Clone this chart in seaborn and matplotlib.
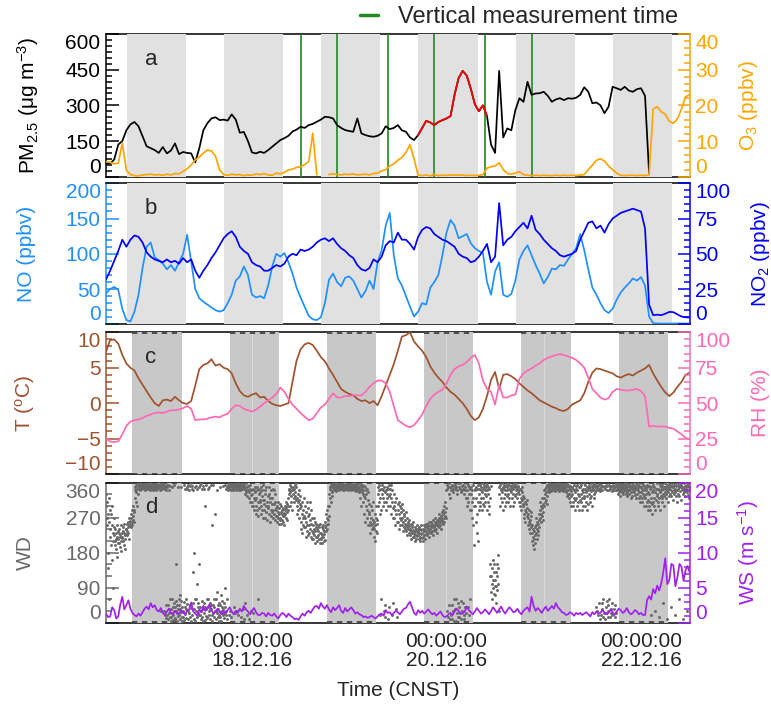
import numpy as np
import pandas as pd
import matplotlib
matplotlib.use("Agg")
import matplotlib.pyplot as plt
import matplotlib.ticker as mticker
from matplotlib.lines import Line2D
import seaborn as sns

nan = np.nan
START = "2016-12-16 12:00"

pm25 = [58, 55, 72, 135, 150, 195, 220, 230, 212, 170,
        128, 120, 112, 100, 125, 98, 110, 140, 95, 104,
        100, 98, 60, 120, 195, 225, 245, 250, 238, 240,
        236, 262, 240, 185, 188, 150, 102, 98, 105, 100,
        112, 126, 140, 154, 162, 172, 190, 198, 210, 205,
        217, 222, 231, 240, 252, 250, 245, 217, 205, 196,
        192, 189, 245, 182, 175, 170, 168, 172, 182, 212,
        200, 205, 217, 195, 189, 165, 154, 175, 205, 235,
        228, 217, 230, 238, 245, 255, 345, 415, 445, 425,
        370, 305, 275, 300, 255, 135, 100, 445, 165, 203,
        195, 280, 330, 315, 399, 344, 350, 351, 357, 340,
        315, 325, 330, 322, 330, 328, 332, 344, 376, 357,
        309, 312, 300, 267, 294, 378, 372, 365, 378, 362,
        357, 368, 372, 340, 15, nan, nan, nan, nan, nan,
        nan, nan, nan, nan, nan]

o3 = [4.2, 4.0, 3.6, 3.8, 9.4, 1.8, 0.6, 0.3, 0.2, 0.5,
      0.6, 0.7, 0.5, 0.6, 0.4, 0.7, 0.5, 0.9, 0.8, 1.5,
      2.2, 3.3, 4.7, 5.5, 6.6, 7.5, 7.2, 5.8, 1.9, 0.6,
      0.4, 0.7, 0.5, 0.6, 0.3, 0.5, 0.4, 0.8, 0.6, 0.9,
      0.5, 0.4, 1.0, 0.8, 1.2, 1.9, 2.1, 2.6, 2.8, 3.4,
      4.2, 12.2, 0.5, nan, nan, 0.6, 0.8, 0.6, 0.5, 0.7,
      0.6, 0.8, 0.5, 0.6, 0.7, 0.5, 0.9, 1.0, 1.6, 2.0,
      3.0, 3.6, 4.6, 5.4, 6.8, 9.0, 5.0, 0.4, 0.3, 0.5,
      0.2, 0.7, 0.3, 0.4, 0.4, 0.5, 0.4, 0.5, 0.4, 0.3,
      0.4, 0.3, 0.4, 0.6, 2.4, 2.8, 3.0, 3.9, 2.0, 0.9,
      0.7, 1.0, 1.4, 0.6, 0.4, 0.3, 0.4, 0.3, 0.4, 0.3,
      0.3, 0.4, 0.3, 0.4, 0.3, 0.4, 0.3, 0.5, 0.6, 2.0,
      3.2, 4.6, 5.0, 4.4, 3.0, 2.0, 1.0, 0.4, 0.3, 0.4,
      0.4, 0.3, 0.4, 0.3, 0.5, 19.0, 19.6, 18.2, 17.5, 15.5,
      15.0, 16.2, 19.0, 22.4, 23.0]

no = [44, 50, 53, 49, 22, 6, 4, 18, 42, 80,
      110, 116, 95, 91, 86, 78, 84, 76, 88, 100,
      127, 88, 50, 37, 32, 28, 24, 20, 18, 20,
      30, 42, 62, 68, 82, 70, 42, 38, 40, 37,
      55, 82, 100, 96, 101, 88, 72, 52, 38, 25,
      12, 7, 6, 10, 30, 63, 72, 60, 54, 66,
      68, 62, 50, 38, 47, 62, 50, 88, 105, 140,
      158, 98, 65, 55, 40, 25, 11, 18, 30, 28,
      52, 60, 70, 98, 130, 148, 140, 122, 125, 128,
      115, 108, 104, 101, 60, 42, 75, 88, 42, 39,
      43, 62, 92, 104, 112, 98, 84, 72, 58, 67,
      79, 78, 84, 83, 92, 100, 108, 128, 105, 78,
      52, 42, 30, 20, 16, 22, 35, 45, 52, 58,
      65, 62, 67, 55, 11, 1.5, 1.2, 1.0, 1.2, 1.0,
      1.1, 1.3, 1.0, 1.2, 1.0]

no2 = [32, 38, 45, 52, 60, 55, 60, 63, 62, 58,
       51, 48, 46, 45, 44, 46, 44, 45, 43, 47,
       44, 46, 38, 33, 38, 42, 47, 51, 56, 61,
       64, 66, 62, 55, 52, 50, 44, 42, 41, 38,
       38, 40, 42, 41, 43, 48, 50, 49, 53, 52,
       53, 55, 58, 60, 61, 59, 61, 57, 54, 52,
       49, 47, 42, 39, 38, 40, 46, 44, 48, 56,
       59, 58, 65, 60, 60, 57, 53, 62, 67, 69,
       68, 64, 62, 60, 59, 57, 55, 50, 48, 47,
       44, 45, 48, 52, 57, 44, 48, 86, 56, 60,
       62, 66, 69, 72, 68, 77, 67, 64, 60, 57,
       54, 52, 49, 48, 49, 50, 52, 60, 66, 72,
       73, 68, 70, 65, 71, 75, 77, 79, 80, 81,
       82, 81, 80, 68, 14, 6.5, 6.8, 6.5, 7.5, 8.8,
       8.6, 7.0, 5.5, 5.0, 4.8]

temp = [7.3, 8.9, 9.0, 8.4, 6.8, 5.6, 5.0, 4.6, 3.5, 2.6,
        1.7, 0.8, 0.0, -0.4, 0.4, 0.5, 0.3, 0.9, 0.4, 0.0,
        -0.1, 0.3, 2.5, 4.8, 5.4, 5.6, 6.2, 5.3, 5.5, 5.0,
        4.8, 4.2, 2.8, 1.7, 1.1, 0.9, 1.2, 1.4, 0.8, 0.9,
        0.3, -0.1, -0.3, -0.4, -0.2, 0.0, 3.0, 6.0, 7.6, 8.3,
        8.5, 8.2, 7.4, 6.5, 5.9, 4.9, 4.0, 3.0, 2.0, 1.6,
        1.3, 1.1, 0.6, 0.3, 0.4, 0.0, 0.3, -0.3, 1.0, 2.5,
        4.0, 5.5, 7.4, 9.4, 9.6, 10.0, 8.7, 8.0, 7.4, 6.5,
        5.2, 4.3, 3.6, 3.0, 2.2, 1.6, 1.2, 0.6, 0.0, -0.8,
        -1.8, -2.4, -2.0, -0.8, 1.0, 3.3, 4.4, 2.0, 4.0, 4.1,
        3.8, 3.4, 2.8, 2.3, 1.8, 1.4, 0.9, 0.4, 0.1, -0.2,
        -0.5, -0.7, -1.0, -1.1, -0.8, -0.2, 0.1, 0.4, 1.4, 3.0,
        4.3, 4.9, 4.8, 4.6, 4.4, 4.2, 3.8, 3.6, 3.9, 4.1,
        3.9, 4.3, 4.6, 4.9, 5.4, 4.2, 3.2, 2.3, 1.5, 1.0,
        1.5, 2.3, 3.0, 4.0, 4.3]

rh = [25, 23, 22.5, 23, 28, 34, 37, 38, 38.5, 39.5,
      41, 42, 43, 43.5, 43, 44, 45, 45, 45.5, 46.5,
      48, 46, 38, 38.5, 38.5, 39, 40, 40.5, 40, 41.5,
      42.5, 46, 48.5, 48, 46, 45, 44, 45.5, 47.5, 50,
      52, 54, 56.5, 61, 58, 53, 49, 46, 43, 40.5,
      38, 39, 43, 47, 49, 53, 57, 54, 54, 55,
      55, 55.5, 55.5, 55.5, 58, 61.5, 64, 66, 66, 64,
      58, 48, 38, 36, 34, 33, 34.5, 38, 42, 48,
      53, 56, 58, 59.5, 64, 70, 74, 76, 77, 79,
      82, 84, 78, 66, 60, 58, 49, 63, 54, 54,
      55.5, 56, 67, 71, 73, 74.5, 76.5, 78, 80.5, 82,
      83, 84, 84.5, 84, 83, 82, 80.5, 78, 75, 68,
      60, 57, 54, 52.5, 53.5, 58, 60, 59.5, 59, 59,
      59.5, 60, 58.5, 55, 33.5, 34, 33.5, 33.5, 33.5, 32.5,
      32, 30, 28, 25.5, 24.5]

# wind speed, every 30 min
ws = [1.3, 0.8, 0.9, 2.2, 1.8, 0.6, 0.9, 2.6, 3.7, 1.9, 2.5, 3.2, 2.0, 1.4, 1.1, 0.9,
      1.3, 1.0, 1.5, 2.0, 2.3, 1.9, 2.8, 2.2, 2.5, 1.8, 1.6, 2.1, 1.4, 1.1, 1.6, 2.0,
      1.4, 1.2, 1.7, 1.3, 1.3, 1.8, 1.5, 1.2, 1.7, 1.9, 2.9, 1.6, 1.3, 1.0, 1.9, 1.5,
      2.4, 1.7, 2.1, 2.6, 1.8, 1.3, 1.6, 2.0, 1.5, 1.2, 1.7, 1.3, 1.8, 2.2, 1.6, 1.2,
      1.7, 1.4, 2.0, 1.6, 2.4, 1.9, 1.6, 1.2, 1.7, 2.1, 1.5, 1.1, 1.1, 1.4, 1.3, 0.9,
      1.4, 1.1, 1.0, 1.3, 0.9, 0.6, 1.1, 1.4, 1.2, 0.8, 1.3, 1.0, 0.8, 0.5, 0.6, 0.4,
      0.9, 1.3, 1.0, 1.5, 1.7, 1.4, 1.9, 2.3, 2.4, 2.0, 2.8, 2.3, 2.0, 2.5, 1.9, 1.5,
      2.2, 1.8, 2.1, 2.5, 1.7, 1.4, 2.1, 1.6, 1.9, 2.2, 1.8, 1.3, 1.5, 1.2, 1.1, 0.8,
      0.9, 0.7, 0.8, 1.0, 0.8, 0.6, 0.9, 1.2, 1.3, 1.0, 1.8, 1.4, 1.5, 1.1, 1.4, 1.7,
      1.5, 1.2, 1.6, 2.0, 2.1, 2.6, 3.0, 2.2, 1.4, 1.1, 1.8, 1.4, 1.7, 1.3, 1.6, 1.9,
      1.5, 1.2, 1.4, 1.0, 1.3, 1.6, 1.1, 0.8, 0.9, 1.2, 1.4, 1.1, 1.6, 2.0, 1.7, 1.3,
      1.3, 1.6, 2.3, 1.8, 1.5, 1.2, 1.6, 2.1, 1.7, 1.3, 1.5, 1.9, 1.6, 1.2, 1.7, 2.2,
      1.8, 1.4, 1.9, 2.3, 1.7, 1.3, 1.8, 2.2, 1.9, 1.5, 1.6, 2.0, 1.5, 1.2, 1.7, 2.0,
      2.2, 1.6, 3.7, 2.4, 1.7, 2.1, 1.8, 1.4, 1.9, 2.3, 1.7, 2.0, 2.4, 2.0, 2.8, 2.2,
      1.9, 1.5, 1.4, 1.1, 1.2, 1.5, 1.3, 1.0, 1.4, 1.2, 1.4, 1.1, 1.3, 1.5, 1.2, 0.9,
      1.5, 1.2, 1.6, 1.3, 1.4, 1.8, 1.5, 1.2, 1.4, 1.9, 1.5, 1.1, 1.6, 2.0, 1.8, 1.4,
      1.6, 2.1, 1.5, 1.2, 1.4, 1.8, 1.6, 1.2, 1.4, 1.1, 1.1, 3.2, 3.8, 3.3, 4.8, 4.2,
      5.3, 4.6, 5.6, 7.2, 9.2, 5.5, 6.1, 8.4, 8.2, 5.2, 6.5, 8.4, 8.0, 6.0, 7.5, 8.1,
      7.2]

# wind direction: twelve readings per hour (5-min), one row per hour from START
wd = [
    [330, 300, 270, 250, 310, 280, 180, 140, 320, 260, 60, 290],
    [240, 220, 280, 200, 250, 300, 160, 230, 90, 210, 270, 245],
    [225, 210, 240, 200, 230, 215, 190, 250, 170, 220, 235, 205],
    [215, 230, 205, 240, 220, 195, 225, 250, 210, 185, 230, 218],
    [220, 235, 210, 245, 200, 230, 255, 215, 225, 190, 240, 228],
    [240, 225, 255, 235, 260, 245, 230, 270, 250, 215, 262, 248],
    [255, 270, 245, 280, 260, 290, 250, 275, 300, 265, 285, 258],
    [290, 320, 340, 350, 310, 355, 335, 345, 300, 352, 330, 358],
    [350, 355, 345, 358, 352, 340, 348, 356, 344, 351, 347, 354],
    [355, 348, 352, 345, 358, 350, 342, 356, 349, 353, 346, 357],
    [350, 345, 355, 358, 347, 352, 343, 356, 349, 341, 354, 348],
    [352, 348, 356, 343, 350, 357, 345, 354, 340, 351, 347, 355],
    [345, 352, 358, 350, 340, 355, 348, 343, 356, 351, 346, 353],
    [350, 355, 348, 342, 357, 352, 345, 354, 30, 349, 356, 344],
    [353, 346, 350, 30, 358, 345, 20, 352, 45, 341, 12, 355],
    [20, 350, 355, 45, 10, 340, 35, 25, 352, 60, 15, 5],
    [15, 35, 60, 348, 25, 8, 40, 20, 50, 30, 355, 10],
    [40, 12, 150, 30, 55, 5, 25, 45, 18, 350, 35, 62],
    [20, 45, 10, 70, 35, 350, 28, 55, 15, 40, 5, 30],
    [28, 15, 52, 8, 355, 40, 22, 345, 35, 60, 12, 48],
    [350, 345, 30, 355, 10, 340, 25, 45, 15, 352, 38, 5],
    [358, 345, 352, 20, 340, 50, 130, 180, 35, 10, 348, 60],
    [5, 30, 352, 60, 15, 345, 100, 40, 25, 50, 150, 20],
    [350, 355, 40, 20, 360, 10, 30, 345, 55, 15, 35, 5],
    [352, 345, 25, 50, 8, 300, 40, 18, 355, 35, 60, 12],
    [15, 40, 345, 60, 30, 350, 20, 50, 10, 35, 355, 45],
    [35, 5, 250, 20, 355, 45, 25, 60, 15, 40, 30, 280],
    [10, 60, 30, 340, 25, 80, 45, 15, 35, 50, 20, 5],
    [45, 15, 350, 70, 30, 5, 25, 55, 40, 20, 352, 35],
    [25, 50, 12, 355, 40, 90, 30, 345, 20, 350, 60, 10],
    [340, 355, 350, 20, 345, 358, 352, 30, 348, 15, 356, 342],
    [352, 345, 358, 340, 350, 355, 348, 40, 343, 356, 25, 351],
    [348, 355, 342, 358, 30, 350, 345, 353, 20, 357, 340, 349],
    [350, 340, 355, 15, 345, 352, 358, 343, 35, 348, 356, 10],
    [355, 345, 330, 50, 350, 340, 358, 335, 20, 348, 325, 352],
    [340, 352, 320, 335, 10, 345, 310, 355, 328, 30, 342, 300],
    [330, 310, 345, 25, 300, 340, 320, 290, 350, 315, 335, 280],
    [320, 300, 340, 290, 350, 60, 310, 275, 330, 295, 345, 315],
    [335, 310, 280, 350, 300, 325, 290, 340, 270, 315, 355, 305],
    [315, 290, 340, 270, 330, 300, 285, 350, 310, 265, 325, 295],
    [300, 330, 280, 350, 310, 260, 320, 290, 340, 275, 305, 285],
    [320, 290, 345, 270, 305, 340, 280, 310, 265, 330, 295, 275],
    [290, 275, 300, 260, 285, 310, 270, 295, 255, 280, 305, 265],
    [270, 285, 255, 300, 265, 280, 290, 260, 275, 295, 250, 282],
    [275, 290, 300, 280, 310, 295, 270, 285, 305, 265, 290, 300],
    [320, 340, 330, 345, 300, 335, 355, 310, 350, 325, 290, 342],
    [340, 330, 350, 320, 345, 310, 355, 335, 325, 348, 315, 358],
    [300, 320, 280, 330, 290, 310, 340, 270, 315, 295, 325, 305],
    [260, 300, 240, 280, 230, 310, 270, 250, 290, 320, 245, 275],
    [270, 245, 300, 220, 260, 285, 235, 310, 250, 275, 225, 295],
    [250, 280, 230, 310, 265, 240, 220, 290, 255, 235, 270, 215],
    [230, 250, 215, 270, 240, 225, 205, 260, 235, 245, 220, 255],
    [220, 240, 210, 235, 250, 225, 215, 245, 205, 230, 255, 218],
    [230, 215, 245, 225, 205, 240, 220, 250, 210, 235, 228, 212],
    [245, 260, 235, 280, 250, 270, 240, 290, 255, 265, 300, 275],
    [300, 330, 345, 320, 350, 355, 310, 340, 325, 358, 335, 348],
    [350, 355, 345, 358, 340, 352, 347, 356, 343, 351, 338, 354],
    [355, 348, 352, 345, 358, 350, 341, 356, 347, 353, 344, 349],
    [350, 345, 355, 358, 347, 352, 342, 356, 349, 353, 340, 346],
    [352, 348, 356, 343, 350, 357, 345, 354, 340, 351, 347, 355],
    [345, 352, 358, 350, 340, 355, 348, 343, 356, 351, 346, 353],
    [350, 355, 348, 342, 357, 352, 345, 354, 338, 349, 356, 344],
    [353, 346, 350, 340, 358, 345, 335, 352, 320, 341, 355, 300],
    [345, 355, 335, 350, 340, 330, 310, 352, 280, 325, 348, 260],
    [320, 340, 300, 330, 290, 345, 270, 315, 250, 335, 305, 285],
    [280, 250, 260, 230, 270, 300, 240, 290, 255, 265, 310, 245],
    [240, 260, 220, 280, 250, 210, 270, 235, 300, 255, 230, 265],
    [300, 330, 350, 310, 340, 355, 280, 20, 320, 345, 60, 290],
    [345, 330, 355, 320, 340, 300, 30, 350, 310, 45, 335, 15],
    [310, 340, 290, 350, 320, 330, 10, 300, 345, 40, 325, 355],
    [330, 300, 345, 280, 320, 355, 20, 310, 340, 50, 295, 270],
    [300, 270, 330, 250, 290, 310, 35, 280, 320, 260, 15, 305],
    [290, 260, 310, 240, 280, 300, 270, 250, 295, 285, 265, 305],
    [270, 250, 290, 235, 260, 280, 245, 275, 255, 265, 240, 285],
    [250, 235, 270, 225, 245, 260, 240, 255, 230, 265, 248, 238],
    [240, 225, 255, 215, 235, 250, 230, 245, 220, 260, 238, 228],
    [230, 220, 245, 210, 235, 225, 240, 215, 250, 232, 222, 242],
    [225, 235, 215, 245, 230, 220, 240, 210, 250, 228, 238, 218],
    [230, 220, 240, 210, 235, 250, 225, 245, 215, 238, 228, 255],
    [235, 245, 225, 255, 240, 230, 250, 220, 260, 238, 248, 232],
    [240, 250, 230, 260, 245, 235, 255, 225, 265, 248, 238, 252],
    [245, 260, 235, 270, 250, 255, 240, 265, 230, 258, 248, 262],
    [255, 270, 245, 280, 260, 265, 250, 275, 240, 268, 258, 285],
    [265, 280, 255, 290, 270, 300, 260, 285, 310, 275, 295, 268],
    [340, 355, 30, 345, 15, 350, 330, 45, 358, 320, 10, 348],
    [350, 20, 340, 45, 355, 10, 335, 30, 345, 60, 352, 5],
    [355, 35, 345, 5, 350, 60, 330, 25, 340, 15, 358, 50],
    [15, 350, 40, 358, 25, 345, 55, 335, 10, 352, 30, 340],
    [345, 50, 355, 20, 330, 10, 350, 40, 340, 25, 358, 320],
    [320, 340, 300, 355, 40, 310, 350, 20, 330, 290, 345, 60],
    [290, 330, 350, 270, 340, 310, 250, 355, 320, 200, 300, 345],
    [300, 340, 260, 350, 320, 280, 230, 345, 310, 210, 355, 290],
    [330, 345, 300, 355, 310, 340, 320, 350, 290, 335, 358, 305],
    [345, 320, 355, 300, 350, 330, 340, 310, 358, 325, 348, 290],
    [340, 355, 310, 350, 330, 300, 345, 280, 150, 320, 120, 352],
    [80, 120, 100, 60, 140, 90, 160, 110, 130, 75, 150, 95],
    [110, 70, 130, 95, 50, 150, 120, 85, 175, 100, 140, 30],
    [330, 350, 300, 355, 340, 320, 345, 310, 358, 335, 290, 348],
    [345, 355, 320, 350, 300, 340, 330, 352, 310, 358, 325, 342],
    [350, 330, 355, 310, 345, 358, 320, 340, 300, 352, 335, 348],
    [340, 355, 320, 350, 300, 345, 330, 358, 310, 348, 325, 352],
    [355, 340, 350, 330, 358, 345, 320, 352, 335, 348, 310, 342],
    [330, 310, 345, 300, 340, 320, 290, 335, 315, 350, 305, 325],
    [300, 280, 320, 270, 310, 290, 260, 305, 285, 295, 275, 315],
    [270, 250, 280, 240, 260, 290, 230, 265, 255, 275, 245, 285],
    [230, 210, 250, 200, 240, 220, 190, 235, 215, 245, 205, 225],
    [250, 230, 270, 215, 260, 240, 225, 255, 235, 265, 245, 280],
    [290, 270, 310, 260, 300, 280, 320, 275, 295, 285, 305, 265],
    [320, 300, 340, 310, 330, 345, 315, 335, 350, 325, 305, 355],
    [350, 340, 355, 345, 358, 335, 348, 352, 342, 356, 338, 353],
    [355, 345, 350, 358, 340, 352, 347, 356, 343, 351, 338, 354],
    [350, 355, 345, 358, 348, 340, 352, 343, 356, 338, 351, 346],
    [345, 355, 350, 340, 358, 352, 343, 356, 347, 338, 353, 349],
    [352, 345, 358, 340, 350, 355, 335, 348, 325, 356, 342, 330],
    [340, 355, 330, 350, 320, 345, 310, 352, 325, 300, 338, 348],
    [330, 350, 310, 345, 300, 355, 320, 340, 290, 335, 315, 352],
    [345, 320, 355, 300, 340, 330, 310, 350, 290, 325, 358, 315],
    [350, 330, 310, 355, 340, 290, 320, 345, 300, 335, 358, 325],
    [320, 345, 300, 355, 335, 310, 340, 290, 350, 325, 305, 348],
    [340, 355, 330, 350, 320, 345, 310, 358, 325, 338, 300, 352],
    [350, 340, 355, 345, 330, 358, 320, 348, 336, 352, 40, 342],
    [355, 345, 350, 30, 340, 352, 20, 345, 50, 356, 10, 338],
    [345, 355, 20, 350, 50, 340, 35, 352, 15, 60, 348, 25],
    [350, 10, 345, 40, 355, 25, 340, 55, 352, 30, 15, 45],
    [340, 355, 60, 350, 15, 345, 35, 352, 25, 338, 50, 20],
    [355, 345, 350, 35, 340, 352, 15, 348, 45, 356, 25, 342],
    [350, 340, 355, 345, 330, 358, 348, 336, 352, 342, 356, 325],
    [345, 355, 340, 350, 335, 352, 330, 348, 357, 338, 343, 353],
    [350, 340, 355, 345, 330, 358, 335, 348, 325, 352, 342, 356],
    [340, 355, 330, 350, 345, 320, 352, 335, 358, 325, 348, 338],
    [355, 345, 350, 335, 340, 352, 328, 348, 358, 320, 343, 356],
    [345, 330, 355, 340, 350, 320, 352, 335, 310, 348, 325, 358],
    [335, 350, 320, 345, 310, 355, 330, 340, 300, 352, 325, 348],
    [320, 345, 300, 340, 330, 355, 310, 350, 290, 335, 315, 352],
    [300, 330, 290, 345, 310, 20, 320, 350, 280, 335, 305, 355],
    [310, 340, 300, 350, 320, 30, 335, 290, 345, 315, 358, 325],
    [330, 310, 345, 300, 340, 15, 320, 355, 335, 290, 350, 325],
    [340, 320, 355, 310, 330, 50, 345, 300, 350, 325, 358, 335],
    [350, 330, 345, 320, 340, 10, 355, 335, 310, 348, 325, 358],
    [345, 355, 330, 350, 340, 40, 325, 352, 335, 358, 315, 348],
    [350, 340, 355, 330, 345, 20, 335, 352, 325, 358, 342, 310],
    [340, 355, 345, 330, 350, 60, 325, 352, 338, 358, 315, 348],
    [355, 345, 350, 340, 330, 10, 348, 335, 358, 325, 352, 342],
    [345, 350, 340, 355, 335, 30, 352, 328, 358, 342, 348, 320],
]

tick_times = ["2016-12-18 00:00", "2016-12-20 00:00", "2016-12-22 00:00"]
tick_labels = ["00:00:00\n18.12.16", "00:00:00\n20.12.16", "00:00:00\n22.12.16"]
vertical_times = ["2016-12-18 12:00", "2016-12-18 21:00", "2016-12-19 09:30",
                  "2016-12-19 21:00", "2016-12-20 09:30", "2016-12-20 21:00"]
red_period = ("2016-12-19 17:00", "2016-12-20 10:00")
nights_ab = [("2016-12-16 17:05", "2016-12-17 07:40"), ("2016-12-17 17:05", "2016-12-18 07:40"),
             ("2016-12-18 17:05", "2016-12-19 07:40"), ("2016-12-19 17:05", "2016-12-20 07:40"),
             ("2016-12-20 17:05", "2016-12-21 07:40"), ("2016-12-21 17:05", "2016-12-22 07:40")]
nights_cd = [("2016-12-16 18:30", "2016-12-17 06:40"), ("2016-12-17 18:30", "2016-12-18 06:40"),
             ("2016-12-18 18:30", "2016-12-19 06:40"), ("2016-12-19 18:30", "2016-12-20 06:40"),
             ("2016-12-20 18:30", "2016-12-21 06:40"), ("2016-12-21 18:30", "2016-12-22 06:40")]
seams_cd = ["2016-12-18 00:00", "2016-12-20 00:00", "2016-12-21 00:00"]
x_range = ("2016-12-16 12:00", "2016-12-22 12:00")

# ---------------------------------------------------------------- data frames
time = pd.date_range(START, periods=len(pm25), freq="h")
df = pd.DataFrame({"time": time, "pm25": pm25, "o3": o3, "no": no, "no2": no2,
                   "temp": temp, "rh": rh})
df["o3_seg"] = df["o3"].isna().cumsum()
red_df = df[(df.time >= pd.Timestamp(red_period[0])) & (df.time <= pd.Timestamp(red_period[1]))]
ws_df = pd.DataFrame({"time": pd.date_range(START, periods=len(ws), freq="30min"), "ws": ws})

wd_arr = np.array(wd, dtype=float)
n_h, n_k = wd_arr.shape
wd_time = (pd.Timestamp(START)
           + pd.to_timedelta(np.repeat(np.arange(n_h), n_k), unit="h")
           + pd.to_timedelta(np.tile(np.arange(n_k) * (60 // n_k), n_h), unit="min"))
wd_df = pd.DataFrame({"time": wd_time, "wd": wd_arr.ravel()})

# ---------------------------------------------------------------- style
sns.set_style("white")
plt.rcParams["font.family"] = ["Liberation Sans", "DejaVu Sans"]
plt.rcParams["mathtext.default"] = "regular"
plt.rcParams["axes.unicode_minus"] = True

C_PM, C_O3 = "black", "#FFA500"
C_NO, C_NO2 = "#1E90FF", "#0000FF"
C_T, C_RH = "#A0522D", "#FF69B4"
C_WD, C_WS = "#696969", "#A020F0"
GREEN = "#1f8a1f"
SHADE_L, SHADE_D = "#e1e1e1", "#c8c8c8"
FS = 15

W, H = 771.0, 713.0
X0, X1 = 106.1, 689.6
fig = plt.figure(figsize=(W / 100, H / 100), dpi=100)
fig.patch.set_facecolor("white")


def panel(top, bottom, share=None):
    return fig.add_axes([X0 / W, 1 - bottom / H, (X1 - X0) / W, (bottom - top) / H], sharex=share)


ax_a = panel(34.0, 176.7)
ax_b = panel(183.3, 324.3, ax_a)
ax_c = panel(332.3, 474.0, ax_a)
ax_d = panel(482.7, 622.7, ax_a)
ax_a2, ax_b2, ax_c2, ax_d2 = ax_a.twinx(), ax_b.twinx(), ax_c.twinx(), ax_d.twinx()

LW = 1.25
# panel a
sns.lineplot(data=df, x="time", y="pm25", ax=ax_a, color=C_PM, lw=LW, estimator=None, zorder=4)
sns.lineplot(data=red_df, x="time", y="pm25", ax=ax_a, color="red", lw=LW, estimator=None, zorder=4.1)
sns.lineplot(data=df.dropna(subset=["o3"]), x="time", y="o3", units="o3_seg", ax=ax_a2,
             color=C_O3, lw=LW, estimator=None, zorder=4)
# panel b
sns.lineplot(data=df, x="time", y="no", ax=ax_b, color=C_NO, lw=LW, estimator=None, zorder=4)
sns.lineplot(data=df, x="time", y="no2", ax=ax_b2, color=C_NO2, lw=LW, estimator=None, zorder=4)
# panel c
sns.lineplot(data=df, x="time", y="temp", ax=ax_c, color=C_T, lw=LW, estimator=None, zorder=4)
sns.lineplot(data=df, x="time", y="rh", ax=ax_c2, color=C_RH, lw=LW, estimator=None, zorder=4)
# panel d
sns.scatterplot(data=wd_df, x="time", y="wd", ax=ax_d, color=C_WD, s=4.5, linewidth=0,
                legend=False, zorder=4)
sns.lineplot(data=ws_df, x="time", y="ws", ax=ax_d2, color=C_WS, lw=LW, estimator=None, zorder=4)

# shading
for ax in (ax_a, ax_b):
    for s, e in nights_ab:
        ax.axvspan(pd.Timestamp(s), pd.Timestamp(e), color=SHADE_L, lw=0, zorder=2.6)
for ax in (ax_c, ax_d):
    for s, e in nights_cd:
        ax.axvspan(pd.Timestamp(s), pd.Timestamp(e), color=SHADE_D, lw=0, zorder=2.6)
        ax.hlines([0.003, 0.997], pd.Timestamp(s), pd.Timestamp(e), transform=ax.get_xaxis_transform(),
                  colors="#2a2a2a", linestyles=(0, (3.5, 3.0)), lw=1.1, zorder=2.7, clip_on=False)
    for t in seams_cd:
        ax.axvline(pd.Timestamp(t), color="#dadada", lw=0.8, zorder=2.65)
for t in vertical_times:
    ax_a.axvline(pd.Timestamp(t), color=GREEN, lw=1.2, zorder=3)

ax_d.set_xlim(pd.Timestamp(x_range[0]), pd.Timestamp(x_range[1]))


def style(ax, ax2, lc, rc, llim, lmaj, lmin, rlim, rmaj, rmin, llab, rlab, lx, rx, letter):
    ax.set_ylim(*llim)
    ax2.set_ylim(*rlim)
    ax.set_yticks(lmaj)
    ax2.set_yticks(rmaj)
    ax.yaxis.set_minor_locator(mticker.MultipleLocator(lmin))
    ax2.yaxis.set_minor_locator(mticker.MultipleLocator(rmin))
    for a, c in ((ax, lc), (ax2, rc)):
        a.tick_params(axis="y", which="major", direction="in", length=9, width=1.1,
                      colors=c, labelsize=FS, pad=4)
        a.tick_params(axis="y", which="minor", direction="in", length=4.5, width=1.1, colors=c)
        labs = a.get_yticklabels()
        labs[0].set_va("bottom")
        labs[-1].set_va("top")
    for sp in ("top", "bottom"):
        ax.spines[sp].set_color("black")
        ax.spines[sp].set_linewidth(1.1)
        ax2.spines[sp].set_visible(False)
    ax.spines["right"].set_visible(False)
    ax2.spines["left"].set_visible(False)
    ax.spines["left"].set_color(lc)
    ax.spines["left"].set_linewidth(1.1)
    ax2.spines["right"].set_color(rc)
    ax2.spines["right"].set_linewidth(1.1)
    ax.set_ylabel(llab, fontsize=FS, color=lc)
    ax2.set_ylabel(rlab, fontsize=FS, color=rc)
    ax.yaxis.label.set_va("center")
    ax2.yaxis.label.set_va("center")
    ax.yaxis.set_label_coords((lx - X0) / (X1 - X0), 0.5)
    ax2.yaxis.set_label_coords((rx - X0) / (X1 - X0), 0.5)
    ax.set_xlabel("")
    ax.tick_params(axis="x", which="both", length=0, labelbottom=False)
    ax.text(0.077, 0.82, letter, transform=ax.transAxes, fontsize=FS + 1, ha="center",
            va="center", zorder=6)


style(ax_a, ax_a2, C_PM, C_O3, (0, 600), [0, 150, 300, 450, 600], 25,
      (0, 40), [0, 10, 20, 30, 40], 2,
      "PM$_{2.5}$ (μg m$^{-3}$)", "O$_3$ (ppbv)", 28, 748, "a")
style(ax_b, ax_b2, C_NO, C_NO2, (0, 200), [0, 50, 100, 150, 200], 10,
      (0, 100), [0, 25, 50, 75, 100], 5,
      "NO (ppbv)", "NO$_2$ (ppbv)", 26, 761, "b")
style(ax_c, ax_c2, C_T, C_RH, (-10, 10), [-10, -5, 0, 5, 10], 1,
      (0, 100), [0, 25, 50, 75, 100], 5,
      "T ($^{o}$C)", "RH (%)", 25, 761, "c")
style(ax_d, ax_d2, C_WD, C_WS, (0, 360), [0, 90, 180, 270, 360], 30,
      (0, 20), [0, 5, 10, 15, 20], 1,
      "WD", "WS (m s$^{-1}$)", 25, 748, "d")

ax_d.set_xticks([pd.Timestamp(t) for t in tick_times])
ax_d.set_xticklabels(tick_labels)
ax_d.tick_params(axis="x", which="both", length=0, labelbottom=True, labelsize=FS, pad=7)
for lab in ax_d.get_xticklabels():
    lab.set_linespacing(0.95)
ax_d.set_xlabel("Time (CNST)", fontsize=FS)
ax_d.xaxis.label.set_va("center")
ax_d.xaxis.set_label_coords(0.5, (622.7 - 690.0) / 140.0)

fig.legend(handles=[Line2D([], [], color=GREEN, lw=2.5)], labels=["Vertical measurement time"],
           loc="center left", bbox_to_anchor=(360 / W, 1 - 17 / H), frameon=False, fontsize=17,
           handlelength=0.75, handletextpad=0.85, borderpad=0, borderaxespad=0)

fig.savefig("out.png", dpi=100, facecolor="white")
